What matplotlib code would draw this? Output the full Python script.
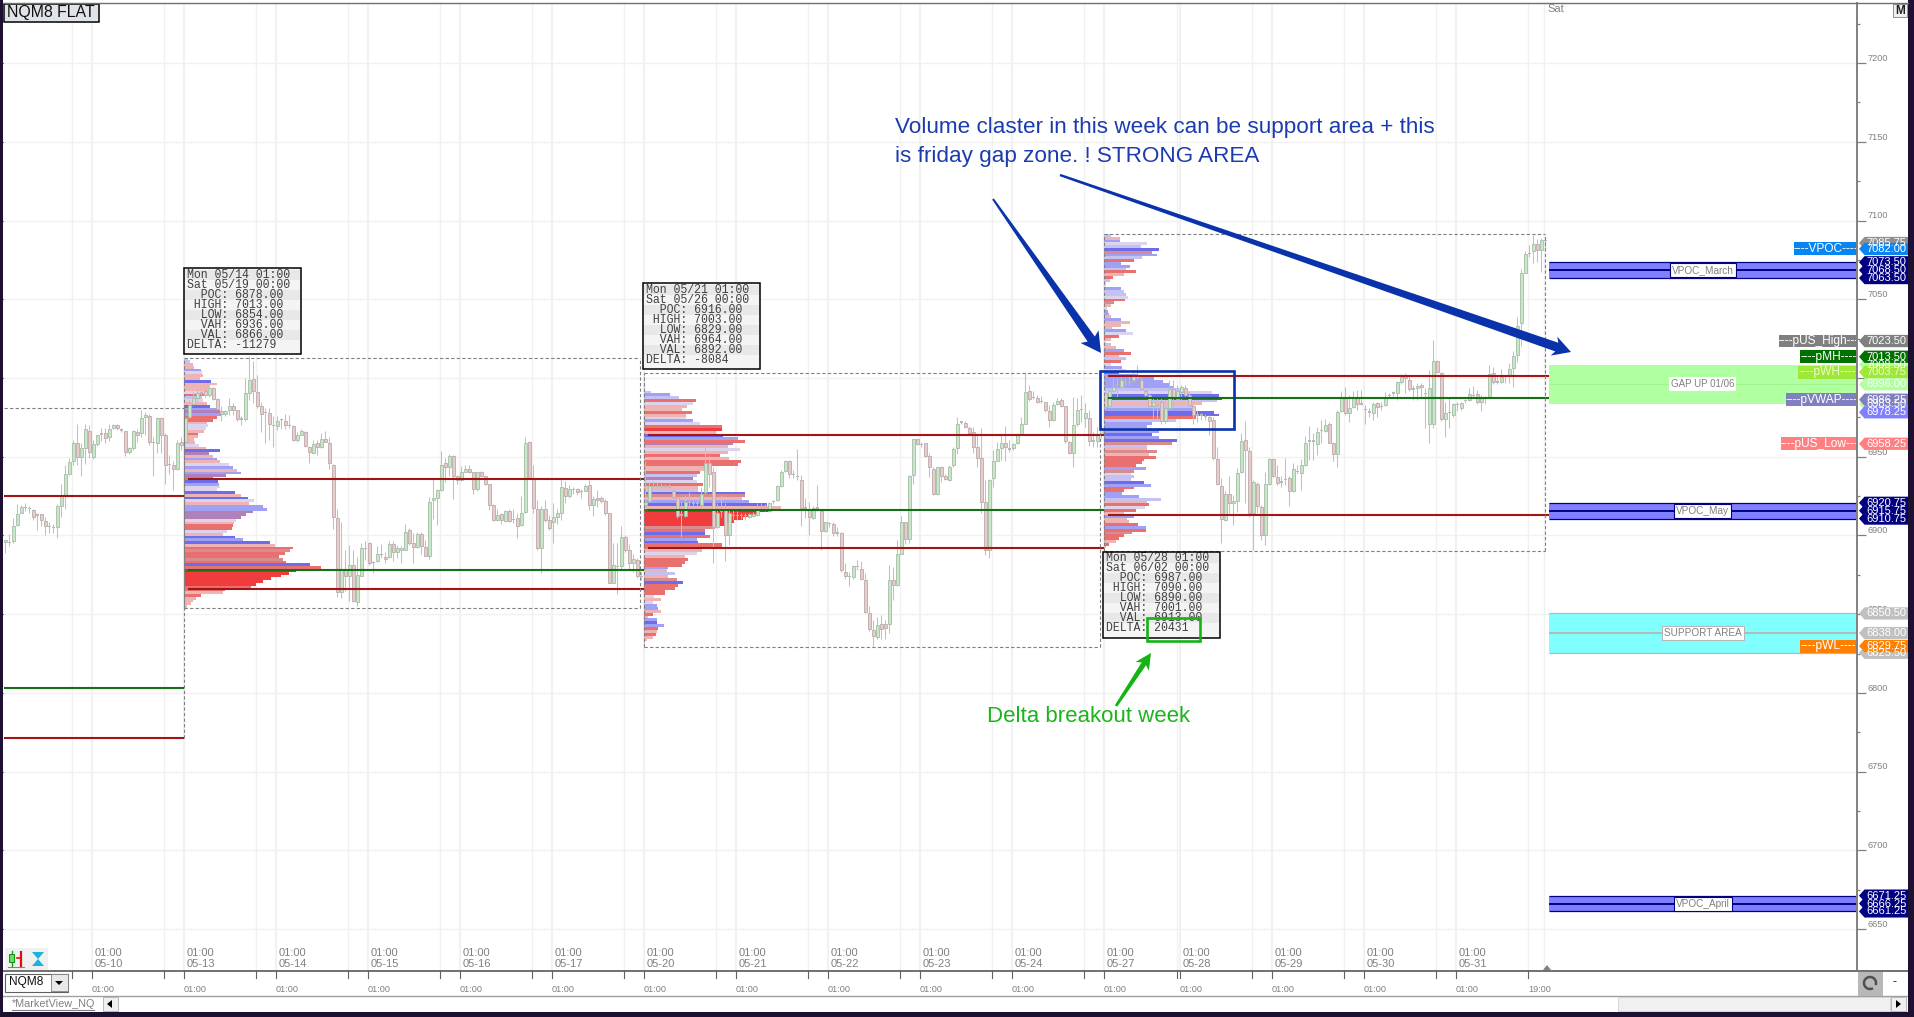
"""NQM8 market view: hourly candles, weekly volume profiles and price levels."""

import matplotlib
matplotlib.use("Agg")
import matplotlib.pyplot as plt
from matplotlib.patches import Rectangle, Polygon, Arc

# candles as (open, close, high, low), one hourly bar each
week0_ohlc = [
    (6896, 6897, 6897, 6889), (6895.5, 6895.5, 6901, 6893), (6896.5, 6906, 6911, 6895), (6906.5, 6913.5, 6920, 6906),
    (6914.5, 6918, 6919.5, 6914), (6918, 6918, 6920.5, 6915.5), (6917, 6917, 6918.5, 6914.5), (6916, 6912, 6917, 6910),
    (6913, 6913, 6914.5, 6903.5), (6913.5, 6910, 6913.5, 6906), (6909.5, 6906, 6911.5, 6900.5), (6905.5, 6905.5, 6908.5, 6901.5),
    (6905, 6905, 6907.5, 6901.5), (6905.5, 6918.5, 6920, 6898.5), (6919, 6925, 6932.5, 6912), (6925, 6939, 6944.5, 6917),
    (6939, 6946.5, 6949.5, 6938.5), (6947, 6958.5, 6960.5, 6944.5), (6958.5, 6950, 6971, 6944.5), (6950, 6955.5, 6958.5, 6937.5),
    (6955.5, 6967.5, 6971, 6945.5), (6966.5, 6953, 6970, 6949.5), (6950, 6958, 6960.5, 6948.5), (6958, 6963.5, 6964, 6957),
    (6964.5, 6964.5, 6968.5, 6960), (6965, 6962, 6968.5, 6959), (6962.5, 6967.5, 6971, 6960), (6968, 6970, 6971, 6967.5),
    (6970, 6968, 6971, 6967), (6967, 6967, 6968.5, 6965.5), (6966.5, 6953, 6966.5, 6950.5), (6953, 6955.5, 6956.5, 6952),
    (6955.5, 6966.5, 6967, 6954.5), (6966, 6964, 6967.5, 6959.5), (6965, 6974.5, 6979.5, 6962.5), (6975, 6976.5, 6978.5, 6964),
    (6976, 6959.5, 6977, 6957.5), (6959, 6959, 6962.5, 6937.5), (6959, 6974.5, 6975.5, 6952.5), (6974.5, 6964, 6975.5, 6952.5),
    (6964, 6945, 6965, 6933), (6945, 6945, 6951, 6939), (6945, 6942, 6947.5, 6929), (6942, 6959, 6960.5, 6941.5),
    (6959.5, 6957.5, 6962.5, 6954),
]
week1_ohlc = [
    (6959.5, 6974.5, 6975, 6958.5), (6975, 6983, 6986, 6974.5), (6983.5, 6987.5, 6991, 6983), (6987.5, 6990.5, 6993, 6985.5),
    (6990.5, 6990.5, 6993, 6988), (6991.5, 6989, 6993, 6988), (6989, 6993.5, 6994, 6988), (6993.5, 6986.5, 6994, 6986),
    (6986.5, 6980.5, 6987.5, 6979.5), (6979, 6977, 6982, 6973), (6977, 6979, 6980, 6976), (6979.5, 6982, 6987.5, 6976.5),
    (6982, 6979.5, 6984, 6976.5), (6979.5, 6974, 6980, 6972.5), (6974, 6974, 6976, 6970), (6974, 6990.5, 7000, 6973),
    (6990.5, 6999, 7014, 6986), (6999.5, 6991.5, 7010.5, 6984), (6991, 6982.5, 7002, 6981), (6982, 6977, 6985, 6965.5),
    (6978, 6978, 6981, 6959), (6978, 6970.5, 6981, 6960.5), (6970, 6970, 6976, 6956), (6969.5, 6972.5, 6976, 6967),
    (6973.5, 6973.5, 6974.5, 6967.5), (6972.5, 6970, 6977, 6967.5), (6970, 6970, 6976.5, 6968), (6969.5, 6960.5, 6970, 6960),
    (6960.5, 6964, 6965.5, 6959.5), (6964, 6966.5, 6967.5, 6963.5), (6965.5, 6957, 6966.5, 6956.5), (6956, 6953, 6957, 6946),
    (6952.5, 6958, 6960.5, 6952), (6958.5, 6956, 6960.5, 6951), (6956, 6961.5, 6965, 6955.5), (6961.5, 6959.5, 6966.5, 6959.5),
    (6959, 6946, 6962.5, 6942), (6945, 6911.5, 6945.5, 6904), (6911, 6864, 6917, 6861), (6864, 6878, 6908.5, 6860.5),
    (6878.5, 6874.5, 6891, 6864.5), (6874, 6881.5, 6894, 6858.5), (6881.5, 6858.5, 6891, 6858), (6858, 6875, 6886.5, 6855),
    (6874.5, 6892, 6895, 6874), (6891.5, 6891.5, 6896.5, 6884.5), (6895.5, 6882.5, 6896, 6881.5), (6883, 6883, 6884, 6876),
    (6883.5, 6888, 6893, 6883), (6888, 6888, 6894.5, 6885.5), (6886.5, 6885, 6889.5, 6882.5), (6886.5, 6894.5, 6896.5, 6886),
    (6894.5, 6889.5, 6896.5, 6883.5), (6889.5, 6892, 6894, 6885.5), (6890.5, 6892, 6893, 6882.5), (6891, 6902.5, 6907.5, 6891),
    (6903.5, 6895.5, 6904.5, 6894), (6895, 6892.5, 6901.5, 6882.5), (6892.5, 6901, 6902, 6892), (6901, 6893.5, 6902, 6888.5),
    (6892.5, 6887, 6897, 6887), (6887, 6921, 6924.5, 6885), (6922.5, 6923.5, 6936.5, 6910.5), (6923.5, 6929, 6929.5, 6906.5),
    (6929, 6945, 6953.5, 6928.5), (6946, 6943.5, 6949.5, 6934), (6943.5, 6950.5, 6952, 6937.5), (6950.5, 6938, 6951, 6923),
    (6937.5, 6935, 6938.5, 6933), (6935, 6940, 6944, 6934.5), (6940.5, 6942.5, 6944.5, 6940), (6942.5, 6940, 6944.5, 6939.5),
    (6940, 6929.5, 6940.5, 6926.5), (6929.5, 6940, 6940.5, 6928.5), (6940, 6938, 6941, 6937.5), (6937.5, 6932.5, 6938, 6932),
    (6932.5, 6919.5, 6933, 6916), (6919.5, 6910, 6920, 6909), (6910, 6913, 6917, 6909), (6913.5, 6910, 6914.5, 6907.5),
    (6909, 6915.5, 6916, 6908.5), (6915.5, 6909, 6917, 6908.5), (6910, 6910, 6917, 6908), (6911, 6906, 6914.5, 6898.5),
    (6906.5, 6914.5, 6925, 6906), (6915, 6959, 6962.5, 6914.5), (6959.5, 6936.5, 6960, 6936), (6936.5, 6917.5, 6945, 6914.5),
    (6917, 6892, 6922.5, 6890.5), (6892, 6917, 6918.5, 6876), (6917, 6910, 6922.5, 6908.5), (6910, 6905, 6913, 6903.5),
    (6908.5, 6912, 6920.5, 6895.5), (6912, 6914, 6916.5, 6907.5), (6914.5, 6930.5, 6936.5, 6910), (6930, 6925, 6934.5, 6920.5),
    (6925, 6929.5, 6932, 6923.5), (6929, 6929, 6930.5, 6926.5), (6929.5, 6927.5, 6930, 6925.5), (6928, 6928, 6929.5, 6924),
    (6928.5, 6931.5, 6932.5, 6928), (6932, 6919.5, 6935.5, 6916), (6919.5, 6923, 6925, 6912.5), (6924, 6922.5, 6929, 6918),
    (6924, 6922, 6925, 6920.5), (6922, 6914.5, 6923, 6913), (6914, 6870, 6914.5, 6869.5), (6870, 6881, 6895.5, 6869.5),
    (6880.5, 6880.5, 6895, 6863), (6880.5, 6899, 6906, 6878), (6899, 6891, 6900.5, 6889.5), (6891, 6882.5, 6894.5, 6878),
    (6882.5, 6885, 6888, 6877), (6884.5, 6874.5, 6886, 6873), (6874, 6874, 6877, 6871.5),
]
week2_ohlc = [
    (6919.5, 6921.5, 6947, 6918.5), (6922, 6931.5, 6934, 6921.5), (6931, 6931, 6934.5, 6929), (6931, 6931, 6934, 6929),
    (6931, 6931, 6933.5, 6929), (6931, 6931, 6933, 6929), (6930.5, 6930.5, 6933, 6928), (6928.5, 6924.5, 6930, 6923.5),
    (6923.5, 6912.5, 6924.5, 6911), (6913, 6913, 6921.5, 6899), (6912.5, 6921.5, 6925.5, 6912), (6921, 6921, 6927.5, 6918.5),
    (6920.5, 6920.5, 6924.5, 6916), (6920.5, 6920.5, 6924.5, 6917.5), (6919.5, 6926.5, 6931, 6916), (6927.5, 6946, 6957.5, 6926.5),
    (6946, 6939, 6951, 6931), (6940.5, 6905.5, 6943.5, 6882.5), (6905.5, 6914.5, 6920.5, 6904.5), (6915, 6915, 6925.5, 6912),
    (6916.5, 6900, 6920.5, 6883.5), (6900, 6914, 6917, 6894), (6912.5, 6912.5, 6918.5, 6910), (6912.5, 6912.5, 6915.5, 6910),
    (6912.5, 6912.5, 6914.5, 6910.5), (6912.5, 6912.5, 6914, 6910), (6911.5, 6913.5, 6914.5, 6911), (6912.5, 6913.5, 6915, 6911.5),
    (6913, 6917, 6920.5, 6912.5), (6918, 6918, 6920.5, 6916), (6918, 6918, 6920, 6915.5), (6915.5, 6920.5, 6921.5, 6915),
    (6921.5, 6921.5, 6922.5, 6920), (6922.5, 6931.5, 6932, 6922), (6931.5, 6940.5, 6941.5, 6931), (6941, 6947.5, 6948, 6940.5),
    (6947.5, 6939, 6948, 6936.5), (6938.5, 6938.5, 6941.5, 6936.5), (6937.5, 6937.5, 6955, 6935.5), (6935.5, 6917.5, 6938.5, 6906),
    (6917.5, 6917.5, 6923.5, 6911), (6916.5, 6911.5, 6921.5, 6900.5), (6911, 6917.5, 6918.5, 6910.5), (6917.5, 6917.5, 6932, 6915.5),
    (6915.5, 6903, 6916.5, 6890.5), (6903, 6908.5, 6908.5, 6902.5), (6907.5, 6907.5, 6908.5, 6905.5), (6907.5, 6901.5, 6908.5, 6899.5),
    (6901.5, 6901.5, 6905.5, 6899.5), (6901.5, 6878, 6902, 6877), (6877, 6874.5, 6882.5, 6872.5), (6874, 6874, 6877, 6868),
    (6873.5, 6880.5, 6881, 6872.5), (6880.5, 6880.5, 6884.5, 6878), (6879, 6872.5, 6884, 6872), (6872, 6851.5, 6876, 6851),
    (6851, 6840.5, 6855, 6839.5), (6840, 6836, 6846, 6830), (6835.5, 6843, 6848.5, 6834.5), (6843.5, 6840.5, 6849.5, 6834.5),
    (6843.5, 6841, 6846.5, 6834), (6844, 6872, 6881, 6838), (6872, 6868.5, 6880, 6859), (6868.5, 6888, 6897, 6868),
    (6888.5, 6908.5, 6912.5, 6888), (6908.5, 6898, 6908.5, 6894.5), (6898, 6938, 6938.5, 6895), (6938.5, 6961, 6961.5, 6933),
    (6961.5, 6958, 6961.5, 6957.5), (6958, 6958, 6959.5, 6956.5), (6958.5, 6950.5, 6959, 6950), (6950.5, 6943.5, 6952.5, 6937),
    (6942, 6926.5, 6943.5, 6925.5), (6926.5, 6943.5, 6943.5, 6925.5), (6943.5, 6938, 6944, 6934), (6938, 6936, 6939, 6935),
    (6935, 6943.5, 6944.5, 6934.5), (6944.5, 6955, 6956.5, 6943.5), (6955.5, 6971, 6975.5, 6951.5), (6972, 6972, 6973, 6971),
    (6971.5, 6969, 6973, 6968), (6968.5, 6965, 6969.5, 6963.5), (6965.5, 6956.5, 6969, 6952.5), (6956, 6949.5, 6965, 6943.5),
    (6949.5, 6921.5, 6968.5, 6914), (6921, 6891, 6935, 6887.5), (6891, 6935.5, 6936, 6886), (6936.5, 6947.5, 6954.5, 6931),
    (6947.5, 6955, 6959.5, 6947), (6955.5, 6958.5, 6965, 6948), (6958.5, 6956, 6969.5, 6947.5), (6955, 6955, 6960.5, 6953),
    (6955.5, 6958, 6958.5, 6954.5), (6958.5, 6964, 6965, 6958), (6964.5, 6970.5, 6975.5, 6964), (6971, 6991, 7004, 6970.5),
    (6991.5, 6986.5, 6995.5, 6985.5), (6987.5, 6987.5, 6991.5, 6986.5), (6987.5, 6984.5, 6989, 6984), (6985, 6985, 6988.5, 6984),
    (6984.5, 6979.5, 6985, 6978.5), (6979, 6973.5, 6983, 6969), (6973.5, 6983, 6985, 6972.5), (6983.5, 6985.5, 6987, 6983),
    (6986, 6982.5, 6987.5, 6981.5), (6982, 6960, 6982.5, 6958.5), (6959.5, 6952.5, 6960, 6951.5), (6952.5, 6970, 6988, 6943.5),
    (6970.5, 6980, 6987.5, 6969.5), (6980, 6980, 6989.5, 6972), (6974.5, 6978, 6984, 6969), (6974.5, 6960, 6979.5, 6957),
    (6960, 6960, 6966, 6956.5), (6960, 6964, 6969, 6956.5), (6964, 6968, 6970, 6962),
]
week3_ohlc = [
    (6990.5, 6981.5, 6993, 6979.5), (6982.5, 6991.5, 6994.5, 6982), (6991.5, 6994.5, 7000, 6990.5), (6996, 6996, 7000, 6987),
    (6994.5, 6999, 7002, 6993.5), (6997, 6997, 7000, 6995), (6997, 6997, 7001, 6995.5), (6999, 7002, 7004, 6998),
    (7002, 7000, 7008, 6999), (6999, 6993, 7002, 6992.5), (6991.5, 6989.5, 6993, 6988), (6989.5, 6982.5, 6990.5, 6982),
    (6982.5, 6985, 6987, 6973.5), (6982.5, 6982.5, 6988, 6973.5), (6985, 6972.5, 6987.5, 6970.5), (6972.5, 6981, 6982, 6971.5),
    (6981, 6993, 6999, 6980), (6993, 6987, 6999, 6982), (6986.5, 6991.5, 6995.5, 6986), (6991, 6994, 6995.5, 6985),
    (6993.5, 6989.5, 6995.5, 6988), (6989, 6983, 6992, 6982), (6982.5, 6976.5, 6983, 6971), (6976.5, 6976.5, 6980, 6972),
    (6976.5, 6976.5, 6978, 6973.5), (6975.5, 6975.5, 6977, 6973.5), (6975.5, 6973, 6976.5, 6964), (6973.5, 6949, 6975.5, 6948),
    (6948.5, 6932.5, 6956.5, 6932), (6931.5, 6910.5, 6936.5, 6895.5), (6910, 6926.5, 6928, 6909.5), (6926.5, 6920.5, 6937.5, 6914),
    (6920.5, 6922, 6925.5, 6906.5), (6922, 6939.5, 6943, 6915), (6940, 6960, 6965, 6939.5), (6960.5, 6954, 6972.5, 6920.5),
    (6953.5, 6914, 6956.5, 6912), (6914.5, 6934, 6935, 6891), (6933, 6919, 6934, 6914), (6918, 6900.5, 6919.5, 6897),
    (6900.5, 6932.5, 6940.5, 6894), (6933, 6948.5, 6949.5, 6932), (6948.5, 6937.5, 6949, 6937), (6937, 6933.5, 6945, 6932),
    (6934, 6934, 6937.5, 6931), (6935.5, 6935.5, 6949.5, 6932), (6936.5, 6928, 6937.5, 6919), (6928, 6942, 6946, 6927.5),
    (6940.5, 6940.5, 6945, 6939), (6939.5, 6944.5, 6948.5, 6929), (6945, 6959, 6963, 6944), (6960, 6960, 6969.5, 6948),
    (6960, 6960, 6965, 6948), (6958, 6966, 6969, 6951), (6966.5, 6966.5, 6973.5, 6958.5), (6966.5, 6970, 6974, 6966),
    (6971, 6959, 6972, 6958.5), (6958.5, 6952, 6959.5, 6947.5), (6952, 6978.5, 6980, 6943.5), (6979, 6987.5, 6991.5, 6978.5),
    (6988, 6977.5, 6994.5, 6976.5), (6977.5, 6981, 6989, 6972), (6981.5, 6988, 6991.5, 6981), (6988, 6983.5, 6992.5, 6980),
    (6983.5, 6983.5, 6992.5, 6983), (6980, 6980, 6983, 6971), (6978.5, 6978.5, 6981, 6975.5), (6977.5, 6983.5, 6985, 6973.5),
    (6984, 6981.5, 6985, 6975.5), (6982, 6982, 6985, 6979.5), (6983, 6988, 6991, 6982.5), (6989, 6989, 6990.5, 6987),
    (6990.5, 6990.5, 6991.5, 6988.5), (6990.5, 6997.5, 6998, 6986), (6997.5, 7000.5, 7002.5, 6996.5), (7002, 7000, 7003.5, 6990.5),
    (6999, 6993, 7001, 6991.5), (6993, 6993, 6995.5, 6986), (6993.5, 6995, 6997, 6986), (6995.5, 6994, 6997, 6987),
    (6990, 6990, 6993.5, 6968), (6970.5, 6993.5, 7005, 6959), (6971, 7010.5, 7024, 6968), (7010.5, 7004, 7011.5, 7003),
    (7003, 6974, 7004, 6972.5), (6974, 6978, 6985, 6962.5), (6978, 6978, 6987, 6968), (6976.5, 6983.5, 6984, 6975.5),
    (6983, 6983, 6985, 6979), (6981, 6984, 6984.5, 6980), (6985.5, 6985.5, 6986.5, 6984), (6986, 6990, 6993.5, 6985.5),
    (6989, 6989, 6995, 6988), (6990, 6984.5, 6992.5, 6983.5), (6984.5, 6987, 6989, 6979), (6987, 6987, 6988.5, 6983.5),
    (6987.5, 7002.5, 7008.5, 6987), (7003.5, 6997.5, 7007, 6996.5), (6997.5, 6997.5, 7001, 6996.5), (6997.5, 7000.5, 7006, 6997),
    (7001, 7001, 7002, 6997), (7002, 7006, 7009.5, 6997), (7006.5, 7014, 7017, 6994), (7014.5, 7033, 7039, 7010),
    (7035, 7066.5, 7069, 7020.5), (7067, 7079, 7080.5, 7066.5), (7079, 7079, 7084.5, 7077), (7080.5, 7085, 7091, 7073),
    (7085, 7081, 7088, 7074), (7081, 7087.5, 7089, 7067.5), (7087.5, 7087.5, 7088, 7082.5),
]

# volume per price row, top row first, and a colour code for each row's delta
week1_volume = [
    4, 6, 9, 10, 17, 18, 19, 16, 27, 33,
    26, 24, 24, 20, 18, 19, 23, 26,
    34, 36, 38, 33, 29, 23, 24, 22, 20, 14,
    14, 10, 11, 15, 22, 36, 25, 29, 33, 36,
    45, 49, 53, 57, 42, 29, 34, 35, 36, 33,
    51, 57, 64, 70, 65, 79, 83, 69, 62, 57,
    52, 50, 49, 48, 43, 39, 51, 59, 86, 91,
    109, 106, 101, 95, 99, 102, 126, 137, 112, 105,
    97, 87, 79, 72, 67, 41, 39, 17, 12, 9,
    7, 3,
]
week1_delta = "llppuwppbp" "ppwrlwpb" "umurrpwwpr" "pppwpbmpup" "wupumrbuww" "bpbwpuummm" "wprrwpbubp" "rqrrqrbrgR" "RRRRrrprpp" "pp"
week2_volume = [
    1, 1, 1, 1, 1, 1, 7, 26,
    35, 52, 49, 43, 38, 48, 42, 42, 49, 56,
    78, 78, 72, 79, 94, 101, 89, 84, 96, 84,
    76, 85, 97, 94, 68, 66, 56, 53, 49, 53,
    59, 54, 54, 101, 101, 98, 105, 123, 137, 126,
    113, 106, 99, 90, 83, 71, 61, 61, 66, 53, 54, 78,
    78, 58, 53, 41, 44, 41, 38, 24, 23, 31,
    24, 33, 39, 34, 31, 21, 21, 10, 17, 9,
    13, 14, 17, 9, 4, 13, 13, 20, 14, 13,
    12, 9, 3, 1, 1,
]
week2_delta = "lwlwlwlu" "lrwpprpwuw" "rRpburmpwp" "rprrpprlmw" "rplbqpubpg" "RRRRRqrbrubr" "rpwprrrupl" "pqbrrrrwpw" "uuprpuburp" "rpppl"
week3_volume = [
    7, 16, 16, 43, 37, 55, 48, 53, 38, 30,
    17, 26, 22, 32, 20, 9, 6, 2, 2, 17,
    20, 22, 24, 21, 10, 7, 3, 4, 5, 7,
    17, 26, 17, 8, 22, 29, 15, 7, 2, 7,
    12, 20, 27, 15, 22, 17, 7, 18, 22, 15,
    33, 50, 59, 65, 70, 78, 108, 115, 118, 113,
    98, 90, 88, 110, 115, 92, 72, 48, 43, 47,
    55, 48, 55, 73, 68, 43, 43, 53, 45, 52,
    40, 38, 32, 42, 30, 27, 30, 27, 40, 47,
    30, 20, 18, 35, 57, 43, 45, 41, 32, 20,
    30, 23, 25, 34, 42, 42, 28, 20, 15, 12,
    5, 2, 1,
]
week3_delta = "lpuwlbqulr" "uulrprlwwu" "llwrqpwuup" "uppluwrpwl" "purplrwuwb" "uuuuulwbgl" "plubbrluul" "ububqlpqpr" "rrruqwllbu" "rruulprwrp" "upprurqrrp" "rpp"

# weekly levels
week_info = [
    ["Mon 05/14 01:00", "Sat 05/19 00:00", "  POC: 6878.00", " HIGH: 7013.00", "  LOW: 6854.00", "  VAH: 6936.00", "  VAL: 6866.00", "DELTA: -11279"],
    ["Mon 05/21 01:00", "Sat 05/26 00:00", "  POC: 6916.00", " HIGH: 7003.00", "  LOW: 6829.00", "  VAH: 6964.00", "  VAL: 6892.00", "DELTA: -8084"],
    ["Mon 05/28 01:00", "Sat 06/02 00:00", "  POC: 6987.00", " HIGH: 7090.00", "  LOW: 6890.00", "  VAH: 7001.00", "  VAL: 6913.00", "DELTA: 20431"],
]
week_starts = [46, 161, 276]
week_ends = [161, 276, 387.25]
week_high = [7013, 7003, 7091.5]
week_low = [6854, 6829, 6890]
week_poc = [6878, 6916, 6987]
week_vah = [6936, 6964, 7001]
week_val = [6866, 6892, 6913]

# time axis, in bar units
day_labels = ["05-10", "05-13", "05-14", "05-15", "05-16", "05-17", "05-20", "05-21", "05-22", "05-23", "05-24", "05-27", "05-28", "05-29", "05-30", "05-31"]
day_bars = [23, 46, 69, 92, 115, 138, 161, 184, 207, 230, 253, 276, 295, 318, 341, 364]
evening_bars = [18, 41, 64, 87, 110, 133, 156, 179, 202, 225, 248, 271, 294.25, 313, 336, 359, 382, 386]

price_labels = [7200, 7150, 7100, 7050, 7000, 6950, 6900, 6850, 6800, 6750, 6700, 6650]

# right side zones: low, mid, high, name
vpoc_zones = [(7063.5, 7068.5, 7073.5, "VPOC_March"), (6910.75, 6915.75, 6920.75, "VPOC_May"), (6661.25, 6666.25, 6671.25, "VPOC_April")]

# named levels: text, price, box width in pixels, box colour, text colour
level_names = [
    ("----VPOC----", 7082.0, 63, "#0a84f0", "white"),
    ("----pUS_High---", 7023.5, 78, "#808080", "white"),
    ("----pMH----", 7013.5, 57, "#007000", "white"),
    ("----pWH----", 7003.75, 59, "#a0e838", "#e8ffc8"),
    ("----pVWAP----", 6986.25, 71, "#8080c0", "white"),
    ("----pUS_Low---", 6958.25, 76, "#ff8080", "white"),
    ("----pWL----", 6829.75, 57, "#ff8000", "white"),
]

# price tags, later ones are drawn over earlier ones
price_tags = [
    (7085.75, "#909090", "white"), (7082.0, "#0a84f0", "white"),
    (7073.5, "#000080", "white"), (7063.5, "#000080", "white"), (7068.5, "#000080", "white"),
    (7023.5, "#808080", "white"), (7008.5, "#b0ffa0", "white"), (7013.5, "#007000", "white"),
    (7003.75, "#a0e838", "#e8ffc8"), (6996.0, "#b0ffa0", "white"), (6983.5, "#b0ffa0", "white"),
    (6978.25, "#8080ff", "white"), (6986.25, "#8080c0", "white"), (6958.25, "#ff8080", "white"),
    (6920.75, "#000080", "white"), (6910.75, "#000080", "white"), (6915.75, "#000080", "white"),
    (6850.5, "#c0c0c0", "white"), (6838.0, "#c0c0c0", "white"), (6825.5, "#c0c0c0", "white"), (6829.75, "#ff8000", "white"),
    (6671.25, "#000080", "white"), (6661.25, "#000080", "white"), (6666.25, "#000080", "white"),
]

delta_colors = {
    "b": "#6c6cec", "u": "#a0a0f4", "l": "#c4c2f2", "w": "#dcd4ec", "m": "#b080b8",
    "p": "#eeb4b4", "q": "#d88c90", "r": "#ea7070", "R": "#f03c3c", "g": "#5c6a14",
}

WIDTH, HEIGHT = 1915, 1017
CHROME = "#1e1030"
GRID = "#f1f1f1"
AXIS_GREY = "#808080"
NAVY = "#000080"
LEVEL_RED = "#a31414"
LEVEL_GREEN = "#157015"
ANNOTATE_BLUE = "#0a32aa"
ANNOTATE_GREEN = "#14b414"

plt.rcParams["font.family"] = ["Liberation Sans", "DejaVu Sans"]

fig = plt.figure(figsize=(WIDTH / 100, HEIGHT / 100), dpi=100, facecolor="white")


def draw_candles(ax, ohlc, first_bar):
    """Draw one block of hourly candles, bar i sits a third of a bar past its slot."""
    for i, (o, c, h, l) in enumerate(ohlc):
        x = first_bar + i + 0.33
        ax.vlines(x, l, h, color="#c0c0c0", lw=0.75, zorder=3)
        if c == o:
            ax.bar(x, 0.8, bottom=o - 0.4, width=0.7, color="#b8b8b8", zorder=3.1)
        elif c > o:
            ax.bar(x, c - o, bottom=o, width=0.66, color="#c6e8c6", edgecolor="#a8bca8", linewidth=0.6, zorder=3.1)
        else:
            ax.bar(x, o - c, bottom=c, width=0.66, color="#e8cccc", edgecolor="#bcaaaa", linewidth=0.6, zorder=3.1)


def draw_profile(ax, start, high, low, volume, delta):
    """Draw the horizontal volume bars of one week from its high down to its low."""
    assert len(volume) == len(delta), "one colour code is needed per row"
    step = (high - low) / len(volume)
    levels = [high - (j + 0.5) * step for j in range(len(volume))]
    colors = [delta_colors[code] for code in delta]
    ax.barh(levels, [v / 4 for v in volume], height=step, left=start, color=colors, linewidth=0, zorder=2)


def px_polygon(px, points, color, zorder=8):
    px.add_patch(Polygon(points, closed=True, facecolor=color, edgecolor="none", zorder=zorder))


def tapered_arrow(px, tail, tip, tail_half, shaft_half, head_half, head_len, color):
    """Arrow that widens from the tail to the head, in pixel coordinates."""
    dx, dy = tip[0] - tail[0], tip[1] - tail[1]
    length = (dx ** 2 + dy ** 2) ** 0.5
    ux, uy = dx / length, dy / length
    nx, ny = -uy, ux
    bx, by = tip[0] - ux * head_len, tip[1] - uy * head_len
    px_polygon(px, [
        (tail[0] + nx * tail_half, tail[1] + ny * tail_half),
        (bx + nx * shaft_half, by + ny * shaft_half),
        (bx + nx * head_half - ux * 3, by + ny * head_half - uy * 3),
        tip,
        (bx - nx * head_half - ux * 3, by - ny * head_half - uy * 3),
        (bx - nx * shaft_half, by - ny * shaft_half),
        (tail[0] - nx * tail_half, tail[1] - ny * tail_half),
    ], color)


def info_box(px, left, top, lines):
    """Weekly summary box with alternating grey rows."""
    px.add_patch(Rectangle((left, top), 117, 86, facecolor="#f4f4f4", edgecolor="none", zorder=7))
    for i, line in enumerate(lines):
        y = top + 1.5 + i * 10
        if i % 2 == 0:
            px.add_patch(Rectangle((left, y), 117, 10, facecolor="#e8e8e8", edgecolor="none", zorder=7))
        px.text(left + 3, y + 5.2, line, family="Liberation Mono", fontsize=8.3, color="#404040", va="center", zorder=7.5)
    px.add_patch(Rectangle((left, top), 117, 86, facecolor="none", edgecolor="black", lw=1.1, zorder=7.6))


# main chart, x is in bars of 4 pixels
ax = fig.add_axes([3 / WIDTH, 1 - 970.7 / HEIGHT, (1857 - 3) / WIDTH, (970.7 - 3) / HEIGHT])
ax.set_xlim(3 / 4, 1857 / 4)
ax.set_ylim(7050 - (970.7 - 299.3) / 1.5745, 7050 + (299.3 - 3) / 1.5745)
ax.set_xticks([])
ax.set_yticks([])
for side in ax.spines:
    ax.spines[side].set_visible(False)

for p in price_labels:
    ax.axhline(p, color=GRID, lw=1.0, zorder=1)
ax.vlines(day_bars, 0, 1, transform=ax.get_xaxis_transform(), color=GRID, lw=1.5, zorder=1)
ax.vlines(evening_bars, 0, 1, transform=ax.get_xaxis_transform(), color=GRID, lw=1.0, zorder=1)

for ohlc, first in [(week0_ohlc, 1), (week1_ohlc, 46), (week2_ohlc, 161), (week3_ohlc, 276)]:
    draw_candles(ax, ohlc, first)
for i, (volume, delta) in enumerate([(week1_volume, week1_delta), (week2_volume, week2_delta), (week3_volume, week3_delta)]):
    draw_profile(ax, week_starts[i], week_high[i], week_low[i], volume, delta)

# the week before the first profile
ax.hlines(6925, 1, 46, color=LEVEL_RED, lw=1.5, zorder=4)
ax.hlines(6803, 1, 46, color=LEVEL_GREEN, lw=1.5, zorder=4)
ax.hlines(6771.5, 1, 46, color=LEVEL_RED, lw=1.5, zorder=4)
ax.hlines(6981, 1, 46, color="#808080", lw=0.8, ls=(0, (3, 2)), zorder=4)
ax.vlines(46, 6771.5, 6981, color="#808080", lw=0.8, ls=(0, (3, 2)), zorder=4)

for i, start in enumerate(week_starts):
    end = week_ends[i]
    ax.hlines(week_vah[i], start + 1, end, color=LEVEL_RED, lw=1.5, zorder=4)
    ax.hlines(week_val[i], start + 1, end, color=LEVEL_RED, lw=1.5, zorder=4)
    ax.hlines(week_poc[i], start + 1, end, color=LEVEL_GREEN, lw=1.5, zorder=4)
    ax.hlines([week_high[i], week_low[i]], start, end - 0.9, color="#808080", lw=0.8, ls=(0, (3, 2)), zorder=4)
    ax.vlines([start, end - 0.9], week_low[i], week_high[i], color="#808080", lw=0.8, ls=(0, (3, 2)), zorder=4)

# zones on the right
zone_left, zone_right = 387.25, 464.25
zone_centre = 425.7
for lo, mid, hi, name in vpoc_zones:
    ax.fill_between([zone_left, zone_right], lo, hi, color="#8080ff", linewidth=0, zorder=2)
    ax.hlines([lo, hi], zone_left, zone_right, color=NAVY, lw=0.9, zorder=3)
    ax.hlines(mid, zone_left, zone_right, color=NAVY, lw=1.4, zorder=3)
    ax.text(zone_centre, mid, name, color="#808080", fontsize=7.2, ha="center", va="center", zorder=5,
            bbox=dict(boxstyle="square,pad=0.2", facecolor="white", edgecolor=NAVY, lw=0.8))

ax.fill_between([zone_left, zone_right], 6983.5, 7008.5, color="#b0ffa0", linewidth=0, zorder=2)
ax.hlines(6996, zone_left, zone_right, color="#a4f490", lw=0.8, zorder=3)
ax.text(zone_centre, 6996, "GAP UP 01/06", color="#808080", fontsize=7, ha="center", va="center", zorder=5,
        bbox=dict(boxstyle="square,pad=0.2", facecolor="white", edgecolor="none"))

ax.fill_between([zone_left, zone_right], 6825.5, 6850.5, color="#80ffff", linewidth=0, zorder=2)
ax.hlines([6825.5, 6850.5], zone_left, zone_right, color="#b8b8b8", lw=0.9, zorder=3)
ax.hlines(6838, zone_left, zone_right, color="#b8b8b8", lw=1.4, zorder=3)
ax.text(zone_centre, 6838, "SUPPORT AREA", color="#808080", fontsize=7.2, ha="center", va="center", zorder=5,
        bbox=dict(boxstyle="square,pad=0.2", facecolor="white", edgecolor="#b8b8b8", lw=0.8))

for text, price, box_width, color, text_color in level_names:
    ax.add_patch(Rectangle((zone_right - box_width / 4, price - 4.1), box_width / 4, 8.2, facecolor=color, edgecolor="none", zorder=6))
    ax.text(zone_right - box_width / 8, price, text, color=text_color, fontsize=8.6, ha="center", va="center", zorder=6.5)

# price axis panel
tag_ax = fig.add_axes([1857 / WIDTH, 1 - 970.7 / HEIGHT, 51 / WIDTH, (970.7 - 3) / HEIGHT], sharey=ax)
tag_ax.set_xlim(0, 51)
tag_ax.set_xticks([])
for side in ["top", "right", "bottom"]:
    tag_ax.spines[side].set_visible(False)
tag_ax.spines["left"].set_color(AXIS_GREY)
tag_ax.spines["left"].set_linewidth(1.4)
tag_ax.yaxis.tick_right()
tag_ax.set_yticks(price_labels, labels=[""] * len(price_labels))
tag_ax.tick_params(axis="y", which="both", length=0)
tag_ax.hlines(price_labels, 0, 9, color=AXIS_GREY, lw=0.9)
tag_ax.hlines([p + 25 for p in price_labels], 0, 3.5, color=AXIS_GREY, lw=0.9)
for p in price_labels:
    tag_ax.text(11, p + 3, str(p), color=AXIS_GREY, fontsize=6.6, va="center")
for price, color, text_color in price_tags:
    half = 3.9
    tag_ax.add_patch(Polygon([(2, price), (7.5, price + half), (51, price + half), (51, price - half), (7.5, price - half)],
                             closed=True, facecolor=color, edgecolor="none", zorder=4))
    tag_ax.text(9, price, f"{price:.2f}", color=text_color, fontsize=8, va="center", clip_on=True, zorder=4.1)

# everything else is placed in screen pixels
px = fig.add_axes([0, 0, 1, 1], zorder=5)
px.set_xlim(0, WIDTH)
px.set_ylim(HEIGHT, 0)
px.axis("off")
px.patch.set_alpha(0)

# window frame and bottom strips
px.add_patch(Rectangle((0, 0), 3, HEIGHT, facecolor=CHROME, edgecolor="none", zorder=9))
px.add_patch(Rectangle((1908, 0), 7, HEIGHT, facecolor=CHROME, edgecolor="none", zorder=9))
px.add_patch(Rectangle((0, 1012), WIDTH, 5, facecolor=CHROME, edgecolor="none", zorder=9))
px.plot([3, 1908], [2.5, 2.5], color="#707070", lw=1.0, zorder=9)
px.add_patch(Rectangle((3, 971), 1905, 41, facecolor="white", edgecolor="none", zorder=6))
px.plot([3, 1908], [971, 971], color="#707070", lw=1.4, zorder=7)
px.plot([3, 1908], [995.5, 995.5], color="#a0a0a0", lw=1.0, zorder=7)

px.add_patch(Rectangle((4, 4), 95, 17.5, facecolor="#e0e4e8", edgecolor="black", lw=1.1, zorder=7))
px.text(7.5, 13, "NQM8 FLAT", fontsize=11.4, color="#101010", va="center", zorder=7.5)

for label, bar in zip(day_labels, day_bars):
    x = bar * 4
    px.text(x + 2.5, 953, "01:00", color=AXIS_GREY, fontsize=8, va="center", zorder=7)
    px.text(x + 2.5, 964, label, color=AXIS_GREY, fontsize=8, va="center", zorder=7)
    px.plot([x, x], [971, 978], color="#606060", lw=0.8, zorder=7)
    px.text(x, 989, "01:00", color=AXIS_GREY, fontsize=6.6, va="center", zorder=7)
for bar in evening_bars[:-1]:
    px.plot([bar * 4, bar * 4], [971, 978], color="#606060", lw=0.8, zorder=7)
px.text(1528, 989, "19:00", color=AXIS_GREY, fontsize=6.6, va="center", zorder=7)
px.text(1547, 9, "Sat", color=AXIS_GREY, fontsize=8, va="center", zorder=7)
px_polygon(px, [(1543, 970), (1551, 970), (1547, 965)], "#808080")

# symbol selector and sheet tab
px.add_patch(Rectangle((5, 973.5), 63, 18, facecolor="white", edgecolor="#606060", lw=0.8, zorder=7))
px.add_patch(Rectangle((51, 974), 17, 17, facecolor="#e8e8e8", edgecolor="#808080", lw=0.6, zorder=7.1))
px_polygon(px, [(55, 981), (63, 981), (59, 985)], "black")
px.text(9, 982, "NQM8", fontsize=8.6, color="#101010", va="center", zorder=7.2)
px.text(12, 1004, "*MarketView_NQ", fontsize=7.8, color=AXIS_GREY, va="center", zorder=7)
px.plot([12, 94], [1010, 1010], color=AXIS_GREY, lw=0.8, zorder=7)
px.add_patch(Rectangle((103, 997), 15, 14, facecolor="#f0f0f0", edgecolor="#b0b0b0", lw=0.6, zorder=7))
px_polygon(px, [(112, 1000), (112, 1008), (107, 1004)], "black")
px.add_patch(Rectangle((1618, 997), 272, 14, facecolor="#f0f0f0", edgecolor="#d0d0d0", lw=0.6, zorder=7))
px.add_patch(Rectangle((1891, 997), 15, 14, facecolor="#f0f0f0", edgecolor="#b0b0b0", lw=0.6, zorder=7))
px_polygon(px, [(1896, 1000), (1896, 1008), (1901, 1004)], "black")

# chart type icons
px.add_patch(Rectangle((5, 948), 43, 22, facecolor="#f0f0f0", edgecolor="none", zorder=7))
px.plot([12, 12], [951, 966], color="#10a010", lw=1.0, zorder=7.1)
px.add_patch(Rectangle((9.5, 954), 5, 8, facecolor="#60e060", edgecolor="#109010", lw=0.7, zorder=7.2))
px.plot([21, 21], [952, 966], color="#e01010", lw=1.6, zorder=7.1)
px.plot([17, 21], [958, 958], color="#e01010", lw=1.2, zorder=7.1)
px.plot([8, 24], [966.5, 966.5], color="#808080", lw=0.7, zorder=7.1)
px_polygon(px, [(32, 952), (44, 952), (38, 959), (44, 966), (32, 966), (38, 959)], "#18b4dc")

# corner buttons
px.add_patch(Rectangle((1858, 971.5), 25, 24, facecolor="#b8b8b8", edgecolor="none", zorder=7))
px.add_patch(Arc((1870, 983), 12, 12, theta1=60, theta2=20, color="#505050", lw=1.8, zorder=7.2))
px.text(1895, 982, "-", fontsize=9, color="#202020", ha="center", va="center", zorder=7)
px.add_patch(Rectangle((1893.5, 4), 13.5, 13, facecolor="#f0f0f0", edgecolor="#909090", lw=0.7, zorder=7))
px.text(1900, 10.5, "M", fontsize=8.5, fontweight="bold", color="#202020", ha="center", va="center", zorder=7.2)

# weekly summary boxes
info_box(px, 184, 268.3, week_info[0])
info_box(px, 643.5, 283.3, week_info[1])
info_box(px, 1103.5, 551.5, week_info[2])

# hand drawn notes
px.add_patch(Rectangle((1100, 371), 134, 57.5, facecolor="none", edgecolor=ANNOTATE_BLUE, lw=1.9, zorder=8))
px.add_patch(Rectangle((1147.5, 618), 52.5, 22.5, facecolor="none", edgecolor=ANNOTATE_GREEN, lw=1.9, zorder=8))
tapered_arrow(px, (993, 199), (1101, 353), 1.0, 4.4, 11, 17, ANNOTATE_BLUE)
tapered_arrow(px, (1060, 175), (1571, 352), 1.2, 4.6, 10, 15, ANNOTATE_BLUE)
tapered_arrow(px, (1116, 706), (1151, 653), 1.4, 2.6, 8, 13, ANNOTATE_GREEN)
note_color = "#1c3cae"
px.text(895, 127, "Volume claster in this week can be support area + this", fontsize=16.2, color=note_color, va="center", zorder=8)
px.text(895, 156.5, "is friday gap zone. ! STRONG AREA", fontsize=16.2, color=note_color, va="center", zorder=8)
px.text(987, 717, "Delta breakout week", fontsize=16, color="#1cb41c", va="center", zorder=8)

fig.savefig("out.png", dpi=100)
plt.close(fig)
